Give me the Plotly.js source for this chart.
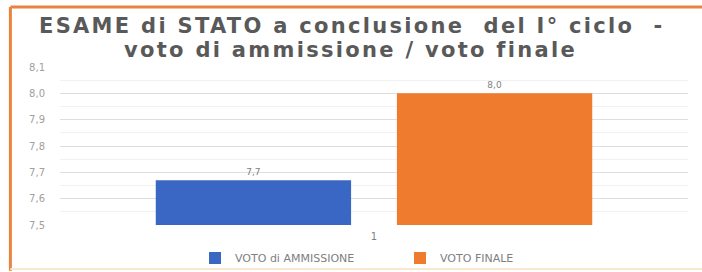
<!DOCTYPE html>
<html>
<head>
<meta charset="utf-8">
<script src="https://cdn.plot.ly/plotly-3.0.1.min.js"></script>
<style>
html,body{margin:0;padding:0;background:#fff;}
#chart{width:702px;height:272px;}
.annotation-text{letter-spacing:2.3px;}
</style>
</head>
<body>
<div id="chart"></div>
<script>
const categories = ["1"];
const seriesNames = ["VOTO di AMMISSIONE", "VOTO FINALE"];
const votoAmmissione = [7.67];
const votoFinale = [8.0];
const titleLines = ["ESAME di STATO a conclusione  del I° ciclo  -", "voto di ammissione / voto finale"];
const yTicks = [7.5, 7.6, 7.7, 7.8, 7.9, 8.0, 8.1];

const smallFont = {family: "DejaVu Sans, sans-serif", size: 9, color: "#7f7f7f"};

const traces = [
  {
    type: "bar", x: categories, y: votoAmmissione, name: seriesNames[0],
    marker: {color: "#3b67c4", line: {width: 0}},
    text: votoAmmissione, texttemplate: "%{y:.1f}", textposition: "outside",
    textfont: smallFont, cliponaxis: false
  },
  {
    type: "bar", x: categories, y: votoFinale, name: seriesNames[1],
    marker: {color: "#ef7b2e", line: {width: 0}},
    text: votoFinale, texttemplate: "%{y:.1f}", textposition: "outside",
    textfont: smallFont, cliponaxis: false
  }
];

const layout = {
  width: 702, height: 272,
  margin: {l: 60, r: 14, t: 67, b: 47},
  paper_bgcolor: "#ffffff", plot_bgcolor: "#ffffff",
  separators: ",.",
  barmode: "group", bargap: 0.232, bargroupgap: 0.19,
  showlegend: true,
  legend: {
    orientation: "h", x: 0.215, xanchor: "left", xref: "paper",
    y: 0.0515, yanchor: "middle", yref: "container",
    entrywidth: 160, entrywidthmode: "pixels",
    font: {family: "DejaVu Sans, sans-serif", size: 11, color: "#808080"},
    itemwidth: 30, traceorder: "normal", bgcolor: "rgba(0,0,0,0)"
  },
  xaxis: {
    type: "category", showgrid: false, zeroline: false, showline: false,
    ticks: "", tickfont: {family: "DejaVu Sans, sans-serif", size: 10, color: "#7f7f7f"},
    ticklabelstandoff: 4
  },
  yaxis: {
    range: [7.5, 8.1], tickvals: yTicks, tickformat: ".1f",
    showgrid: true, gridcolor: "#dedede", gridwidth: 1,
    minor: {dtick: 0.05, showgrid: true, gridcolor: "#f1f1f1", gridwidth: 1},
    zeroline: false, showline: false, ticks: "",
    tickfont: {family: "DejaVu Sans, sans-serif", size: 10, color: "#a0a0a0"},
    ticklabelstandoff: 14
  },
  annotations: [
    {text: titleLines[0], xref: "paper", yref: "paper", x: 0.465, y: 1.26, xanchor: "center", yanchor: "middle",
     showarrow: false, font: {family: "DejaVu Sans, sans-serif", size: 21, color: "#595959", weight: "bold"}},
    {text: titleLines[1], xref: "paper", yref: "paper", x: 0.462, y: 1.108, xanchor: "center", yanchor: "middle",
     showarrow: false, font: {family: "DejaVu Sans, sans-serif", size: 21, color: "#595959", weight: "bold"}}
  ],
  shapes: [
    {type: "line", xref: "paper", yref: "paper", x0: -0.079, x1: 1.1, y0: 1.38, y1: 1.38,
     line: {color: "#e8843f", width: 3}, layer: "below"},
    {type: "line", xref: "paper", yref: "paper", x0: -0.079, x1: -0.079, y0: -0.29, y1: 1.38,
     line: {color: "#e8843f", width: 3}, layer: "below"},
    {type: "line", xref: "paper", yref: "paper", x0: -0.079, x1: 1.1, y0: -0.278, y1: -0.278,
     line: {color: "#fbe6cf", width: 2}, layer: "below"}
  ]
};

Plotly.newPlot("chart", traces, layout, {displayModeBar: false, staticPlot: true});
</script>
</body>
</html>
